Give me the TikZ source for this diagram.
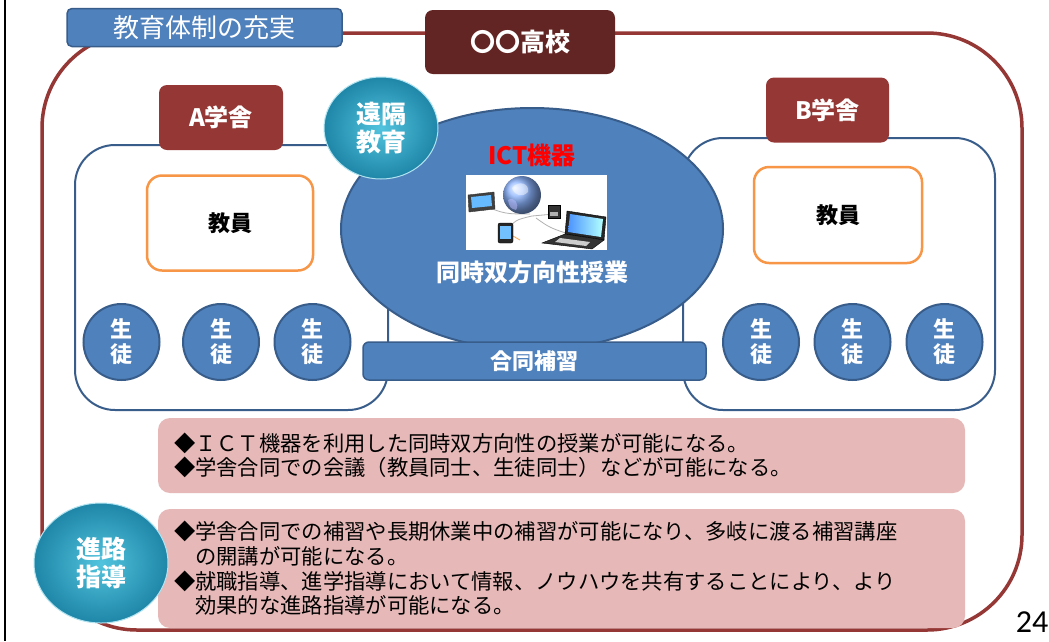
\documentclass[tikz,border=0pt]{standalone}
\usepackage{fontspec}
\setmainfont{Noto Sans CJK JP}
\newfontfamily\numfont{Carlito}
\usetikzlibrary{shapes.geometric}

\definecolor{blueA}{HTML}{4F81BD}
\definecolor{blueD}{HTML}{385D8A}
\definecolor{maroon}{HTML}{953735}
\definecolor{darkmaroon}{HTML}{632523}
\definecolor{orangeL}{HTML}{F79646}
\definecolor{pinkN}{HTML}{E6B9B8}
\definecolor{tealL}{HTML}{52C4DE}
\definecolor{tealD}{HTML}{1F86A8}

\newcommand{\fs}[2]{\fontsize{#1}{#2}\selectfont}

\tikzset{
  frame/.style={draw=maroon, line width=3.5pt, rounded corners=95pt},
  campusbox/.style={draw=blueD, line width=2pt, fill=white, rounded corners=40pt, inner sep=0pt},
  headblue/.style={fill=blueA, draw=blueD, line width=1.5pt, rounded corners=5pt, text=white, inner sep=0pt},
  school/.style={fill=darkmaroon, rounded corners=8pt, text=white, inner sep=0pt, font=\fs{25}{30}\bfseries},
  campus/.style={fill=maroon, rounded corners=8pt, text=white, inner sep=0pt, font=\fs{24}{28}\bfseries},
  staff/.style={draw=orangeL, line width=2.5pt, fill=white, rounded corners=15pt, inner sep=0pt, font=\fs{22}{26}\bfseries},
  pupil/.style={circle, fill=blueA, draw=blueD, line width=2pt, minimum size=76pt, inner sep=0pt,
    text=white, align=center, font=\fs{22}{25}\bfseries},
  bubble/.style={ellipse, inner sep=0pt, inner color=tealL, outer color=tealD, draw=white!55!tealL, line width=1pt,
    text=white, align=center, font=\fs{25}{28}\bfseries},
  note/.style={fill=pinkN, rounded corners=12pt, inner xsep=16pt, inner ysep=0pt, align=left,
    font=\fs{21.3}{24.7}},
  wlabel/.style={text=white, inner sep=0pt},
}

\begin{document}
\begin{tikzpicture}[x=1pt, y=-1pt]
\useasboundingbox (0,0) rectangle (1049,641);
\fill[white] (0,0) rectangle (1049,641);

% slide edge
\draw[line width=2.5pt] (5,0) -- (5,641);

% school frame
\draw[frame] (42,33) rectangle (1022,630);

% the two campuses
\node[campusbox, minimum width=313pt, minimum height=265pt] (bldA) at (231.5,277.5) {};
\node[campusbox, minimum width=312pt, minimum height=272pt] (bldB) at (839,274) {};

% central ICT ellipse and joint lesson bar
\node[ellipse, fill=blueA, draw=blueD, line width=2pt, minimum width=382pt, minimum height=242pt, inner sep=0pt] (ict) at (532,229) {};
\node[headblue, rounded corners=6pt, minimum width=343pt, minimum height=38pt, font=\fs{22}{26}\bfseries] (joint) at (534.5,361) {合同補習};

% staff boxes
\node[staff, minimum width=166pt, minimum height=95pt] (staffA) at (230,223) {教員};
\node[staff, minimum width=168pt, minimum height=96pt] (staffB) at (838,215) {教員};

% students
\node[pupil] (sA1) at (121.5,342) {生\\徒};
\node[pupil] (sA2) at (221,342) {生\\徒};
\node[pupil] (sA3) at (312.5,342) {生\\徒};
\node[pupil] (sB1) at (761,342) {生\\徒};
\node[pupil] (sB2) at (852.5,342) {生\\徒};
\node[pupil] (sB3) at (944.5,342) {生\\徒};

% campus labels
\node[campus, minimum width=124pt, minimum height=65pt] (labA) at (221,117.5) {A学舎};
\node[campus, minimum width=123pt, minimum height=65pt] (labB) at (827.5,110) {B学舎};

% headings
\node[headblue, minimum width=275pt, minimum height=38pt, font=\fs{26}{30}] (title) at (204.5,27.5) {教育体制の充実};
\node[school, minimum width=190pt, minimum height=64pt] (hs) at (520,42) {〇〇高校};

% remote education bubble
\node[bubble, minimum width=114pt, minimum height=102pt] (remote) at (381,128) {遠隔\\教育};

% ICT devices picture
\node[wlabel, text=red, font=\fs{24}{28}\bfseries] (ictlabel) at (532,155) {ICT機器};
\node[fill=white, minimum width=141pt, minimum height=75pt, inner sep=0pt] (ictpic) at (536.5,212.5) {};
\begin{scope}
  % network cables
  \draw[gray!60, line width=0.8pt] (482,205) .. controls (505,214) .. (530,214);
  \draw[gray!60, line width=0.8pt] (506,232) .. controls (515,220) .. (532,216);
  \draw[gray!60, line width=0.8pt] (554,214) -- (532,216);
  \draw[gray!60, line width=0.8pt] (575,236) .. controls (550,228) .. (536,218);
  \draw[orange!70, line width=0.8pt] (506,232) -- (520,240);
  % globe
  \shade[ball color=cyan!35!blue!45] (522,195) circle (19pt);
  \fill[white, opacity=0.45] (512,188) .. controls (518,180) and (530,183) .. (528,192) .. controls (522,198) and (515,196) .. (512,188);
  \fill[blue!25, opacity=0.5] (508,200) .. controls (514,196) and (520,204) .. (516,210) .. controls (510,208) .. (508,200);
  % tablet
  \filldraw[fill=black!75, draw=black!80] (468,195) -- (494,192) -- (495,209) -- (469,212) -- cycle;
  \fill[blue!45!cyan!60] (471,197) -- (491,195) -- (492,206) -- (472,208) -- cycle;
  % small device
  \filldraw[fill=black!80, draw=black] (548,205) rectangle (560,218);
  \fill[gray!60] (550,212) rectangle (558,216);
  % phone
  \filldraw[fill=black!85, draw=black, rounded corners=2pt] (498,223) rectangle (513,243);
  \fill[blue!45!cyan!55] (500,226) rectangle (511,239);
  % laptop
  \filldraw[fill=black!85, draw=black] (567,211) -- (606,217) -- (604,240) -- (565,234) -- cycle;
  \shade[left color=blue!60!cyan!70, right color=cyan!30] (570,214) -- (603,219) -- (601,237) -- (568,232) -- cycle;
  \filldraw[fill=black!80, draw=black] (565,234) -- (604,240) -- (592,249) -- (542,243) -- cycle;
  \fill[gray!40] (560,238) -- (590,242) -- (586,246) -- (555,242) -- cycle;
\end{scope}
\node[wlabel, font=\fs{24}{28}\bfseries] (sync) at (532,272) {同時双方向性授業};

% notes
\node[note, minimum width=807pt, text width=775pt, minimum height=75pt] (note1) at (561.5,455.5)
  {◆ＩＣＴ機器を利用した同時双方向性の授業が可能になる。\\
   ◆学舎合同での会議（教員同士、生徒同士）などが可能になる。};
\node[note, minimum width=807pt, text width=775pt, minimum height=119pt] (note2) at (561.5,568.5)
  {◆学舎合同での補習や長期休業中の補習が可能になり、多岐に渡る補習講座\\
   　の開講が可能になる。\\
   ◆就職指導、進学指導において情報、ノウハウを共有することにより、より\\
   　効果的な進路指導が可能になる。};

% career guidance bubble
\node[bubble, minimum width=134pt, minimum height=120pt] (career) at (101,563) {進路\\指導};

% page number
\node[inner sep=0pt, font=\numfont\fs{32}{36}] (page) at (1032,622) {24};
\end{tikzpicture}
\end{document}
